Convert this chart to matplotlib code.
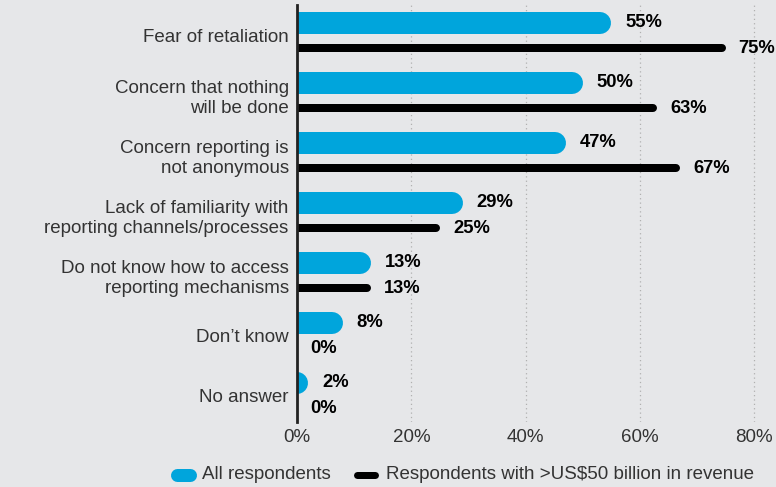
import matplotlib
matplotlib.use("Agg")
import matplotlib.pyplot as plt
from matplotlib.lines import Line2D

plt.rcParams['font.family'] = ['Liberation Sans', 'DejaVu Sans']

categories = [
    "Fear of retaliation",
    "Concern that nothing\nwill be done",
    "Concern reporting is\nnot anonymous",
    "Lack of familiarity with\nreporting channels/processes",
    "Do not know how to access\nreporting mechanisms",
    "Don\u2019t know",
    "No answer",
]
all_resp = [55, 50, 47, 29, 13, 8, 2]
big_resp = [75, 63, 67, 25, 13, 0, 0]
series_names = ["All respondents", "Respondents with >US$50 billion in revenue"]
xticks = [0, 20, 40, 60, 80]

BLUE = "#00a5dc"
BG = "#e6e7e9"
TXT = "#333333"
FS = 13.5

W, H = 776, 487
fig = plt.figure(figsize=(W / 100, H / 100), dpi=100, facecolor=BG)
ax = fig.add_axes([297 / W, 1 - 422 / H, (776 - 297) / W, (422 - 5) / H])
ax.set_facecolor(BG)
ax.set_xlim(0, 83.8)
ax.set_ylim(6.45, -0.5)

px = (776 - 297) / 83.8  # pixels per percent
off = 12.5 / 60.0

for i, (a, b) in enumerate(zip(all_resp, big_resp)):
    # round caps: shorten the line by the cap radius so the tip lands on the value
    r = 11 / px
    ax.plot([-5, max(a - r, -5)], [i - off, i - off], color=BLUE, lw=22 * 0.72,
            solid_capstyle="round", zorder=3)
    r = 4 / px
    if b > 0:
        ax.plot([-5, b - r], [i + off, i + off], color="black", lw=8 * 0.72,
                solid_capstyle="round", zorder=3)
    ax.text(a + 14 / px, i - off, f"{a}%", ha="left", va="center",
            fontsize=13.2, fontweight="bold", color="black")
    ax.text(b + 13 / px, i + off + 0.02, f"{b}%", ha="left", va="center",
            fontsize=13.2, fontweight="bold", color="black")

for x in xticks[1:]:
    ax.axvline(x, color="#b0b0b0", lw=0.9, ls=(0, (1, 2.5)), zorder=1)

ax.set_yticks(range(len(categories)))
ax.set_yticklabels(categories, fontsize=FS, color=TXT, linespacing=1.25)
ax.set_xticks(xticks)
ax.set_xticklabels([f"{x}%" for x in xticks], fontsize=FS, color=TXT)
ax.tick_params(length=0, axis="y", pad=6)
ax.tick_params(length=0, axis="x", pad=5)
for s in ["top", "right", "bottom"]:
    ax.spines[s].set_visible(False)
ax.spines["left"].set_linewidth(2)
ax.spines["left"].set_color("#222222")
ax.spines["left"].set_zorder(4)

# legend drawn by hand at the bottom
ly = 1 - 474.5 / H
fig.add_artist(Line2D([176.5 / W, 189.5 / W], [ly, ly], color=BLUE, lw=13 * 0.72,
                      solid_capstyle="round"))
fig.text(202 / W, ly, series_names[0], fontsize=FS, color=TXT, va="center")
fig.add_artist(Line2D([357 / W, 375 / W], [ly, ly], color="black", lw=7 * 0.72,
                      solid_capstyle="round"))
fig.text(386 / W, ly, series_names[1], fontsize=FS, color=TXT, va="center")

fig.savefig("out.png", dpi=100, facecolor=BG)
